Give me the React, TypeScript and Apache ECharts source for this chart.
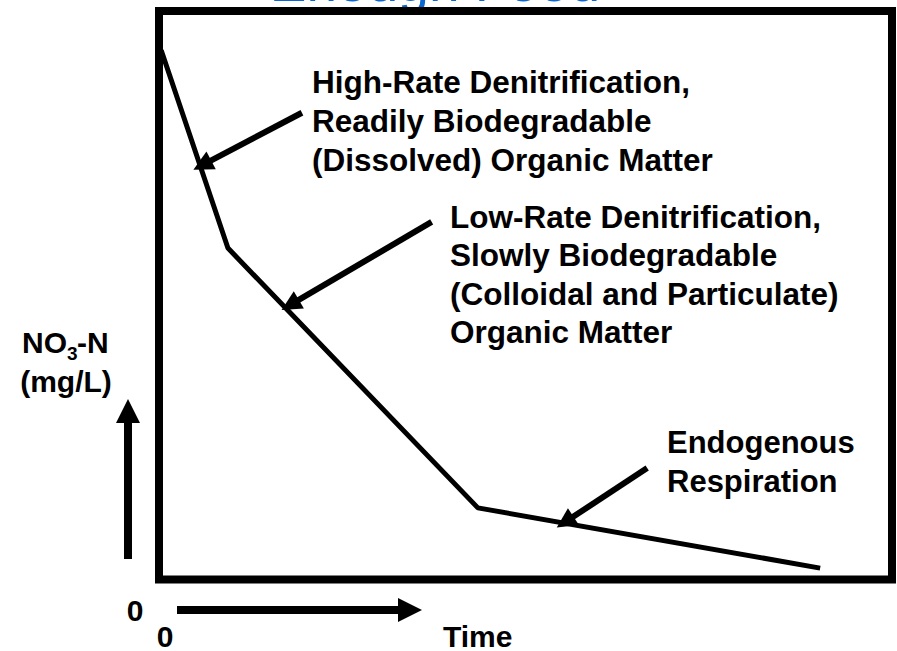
import React, { useEffect, useRef } from "react";
import * as echarts from "echarts";

// Schematic data (arbitrary units)
const timeValues = [0.3, 9.4, 43.5, 90.2];
const no3Values = [93.1, 58.3, 12.6, 2.0];

// Annotation arrows: [tailTime, tailNO3, tipTime, tipNO3]
const arrowTails = [
  [19.5, 82.1],
  [37.2, 62.9],
  [66.6, 19.6],
];
const arrowTips = [
  [5.9, 72.9],
  [17.9, 48.3],
  [55.4, 10.1],
];

const annotationTexts = [
  "High-Rate Denitrification,\nReadily Biodegradable\n(Dissolved) Organic Matter",
  "Low-Rate Denitrification,\nSlowly Biodegradable\n(Colloidal and Particulate)\nOrganic Matter",
  "Endogenous\nRespiration",
];

const titleText = "Enough Food";
const xAxisName = "Time";
const originLabel = "0";

const FONT = "'Liberation Sans', Arial, Helvetica, sans-serif";

export default function App() {
  const ref = useRef<HTMLDivElement>(null);

  useEffect(() => {
    document.body.style.margin = "0";
    if (!ref.current) return;
    const chart = echarts.init(ref.current, null, { renderer: "svg" });

    const txt = (
      text: string,
      x: number,
      y: number,
      extra: any = {}
    ) => ({
      type: "text",
      x,
      y,
      z: 10,
      style: {
        text,
        font: `bold 30px ${FONT}`,
        fill: "#000",
        align: "left",
        verticalAlign: "middle",
        ...extra,
      },
    });

    const annFont = `bold 31.5px ${FONT}`;

    const option: any = {
      animation: false,
      backgroundColor: "#fff",
      grid: {
        show: true,
        left: 159,
        top: 11,
        right: 5,
        bottom: 71.5,
        borderWidth: 8,
        borderColor: "#000",
        backgroundColor: "transparent",
        z: 5,
      },
      xAxis: {
        type: "value",
        min: 0,
        max: 100,
        show: false,
      },
      yAxis: {
        type: "value",
        min: 0,
        max: 100,
        show: false,
      },
      series: [
        {
          type: "line",
          symbol: "none",
          silent: true,
          lineStyle: { color: "#000", width: 5 },
          data: timeValues.map((t, i) => [t, no3Values[i]]),
          markLine: {
            silent: true,
            symbol: ["none", "triangle"],
            symbolSize: [20, 20],
            label: { show: false },
            lineStyle: { color: "#000", width: 6, type: "solid" },
            emphasis: { disabled: true },
            data: arrowTails.map((tail, i) => [
              { coord: tail },
              { coord: arrowTips[i] },
            ]),
          },
        },
      ],
      graphic: [
        {
          type: "text",
          x: 435,
          y: -18.5,
          z: -10,
          style: {
            text: titleText,
            font: `normal 55px ${FONT}`,
            fill: "#0a66d0",
            align: "center",
            verticalAlign: "middle",
          },
        },
        // annotation texts
        txt(annotationTexts[0], 312, 62, {
          font: annFont,
          verticalAlign: "top",
          lineHeight: 39,
        }),
        txt(annotationTexts[1], 450, 197.5, {
          font: annFont,
          verticalAlign: "top",
          lineHeight: 38.4,
        }),
        txt(annotationTexts[2], 667, 423, {
          font: `bold 31px ${FONT}`,
          verticalAlign: "top",
          lineHeight: 39,
        }),
        // y-axis label
        txt("NO", 22, 342.6),
        txt("3", 67, 353.5, { font: `bold 19px ${FONT}` }),
        txt("-N", 77, 342.6),
        txt("(mg/L)", 66, 381.6, { align: "center" }),
        // origin labels
        txt(originLabel, 135, 610, { align: "center" }),
        txt(originLabel, 165, 636, { align: "center" }),
        txt(xAxisName, 443, 636),
        // up arrow
        {
          type: "rect",
          shape: { x: 124, y: 421, width: 8, height: 138 },
          style: { fill: "#000" },
        },
        {
          type: "polygon",
          shape: {
            points: [
              [116, 423],
              [140, 423],
              [128, 399],
            ],
          },
          style: { fill: "#000" },
        },
        // right arrow
        {
          type: "rect",
          shape: { x: 177, y: 606, width: 223, height: 8 },
          style: { fill: "#000" },
        },
        {
          type: "polygon",
          shape: {
            points: [
              [398, 598],
              [398, 622],
              [422, 610],
            ],
          },
          style: { fill: "#000" },
        },
      ],
    };

    chart.setOption(option);
    return () => chart.dispose();
  }, []);

  return (
    <div
      ref={ref}
      style={{ position: "absolute", left: 0, top: 0, width: 897, height: 651 }}
    />
  );
}
